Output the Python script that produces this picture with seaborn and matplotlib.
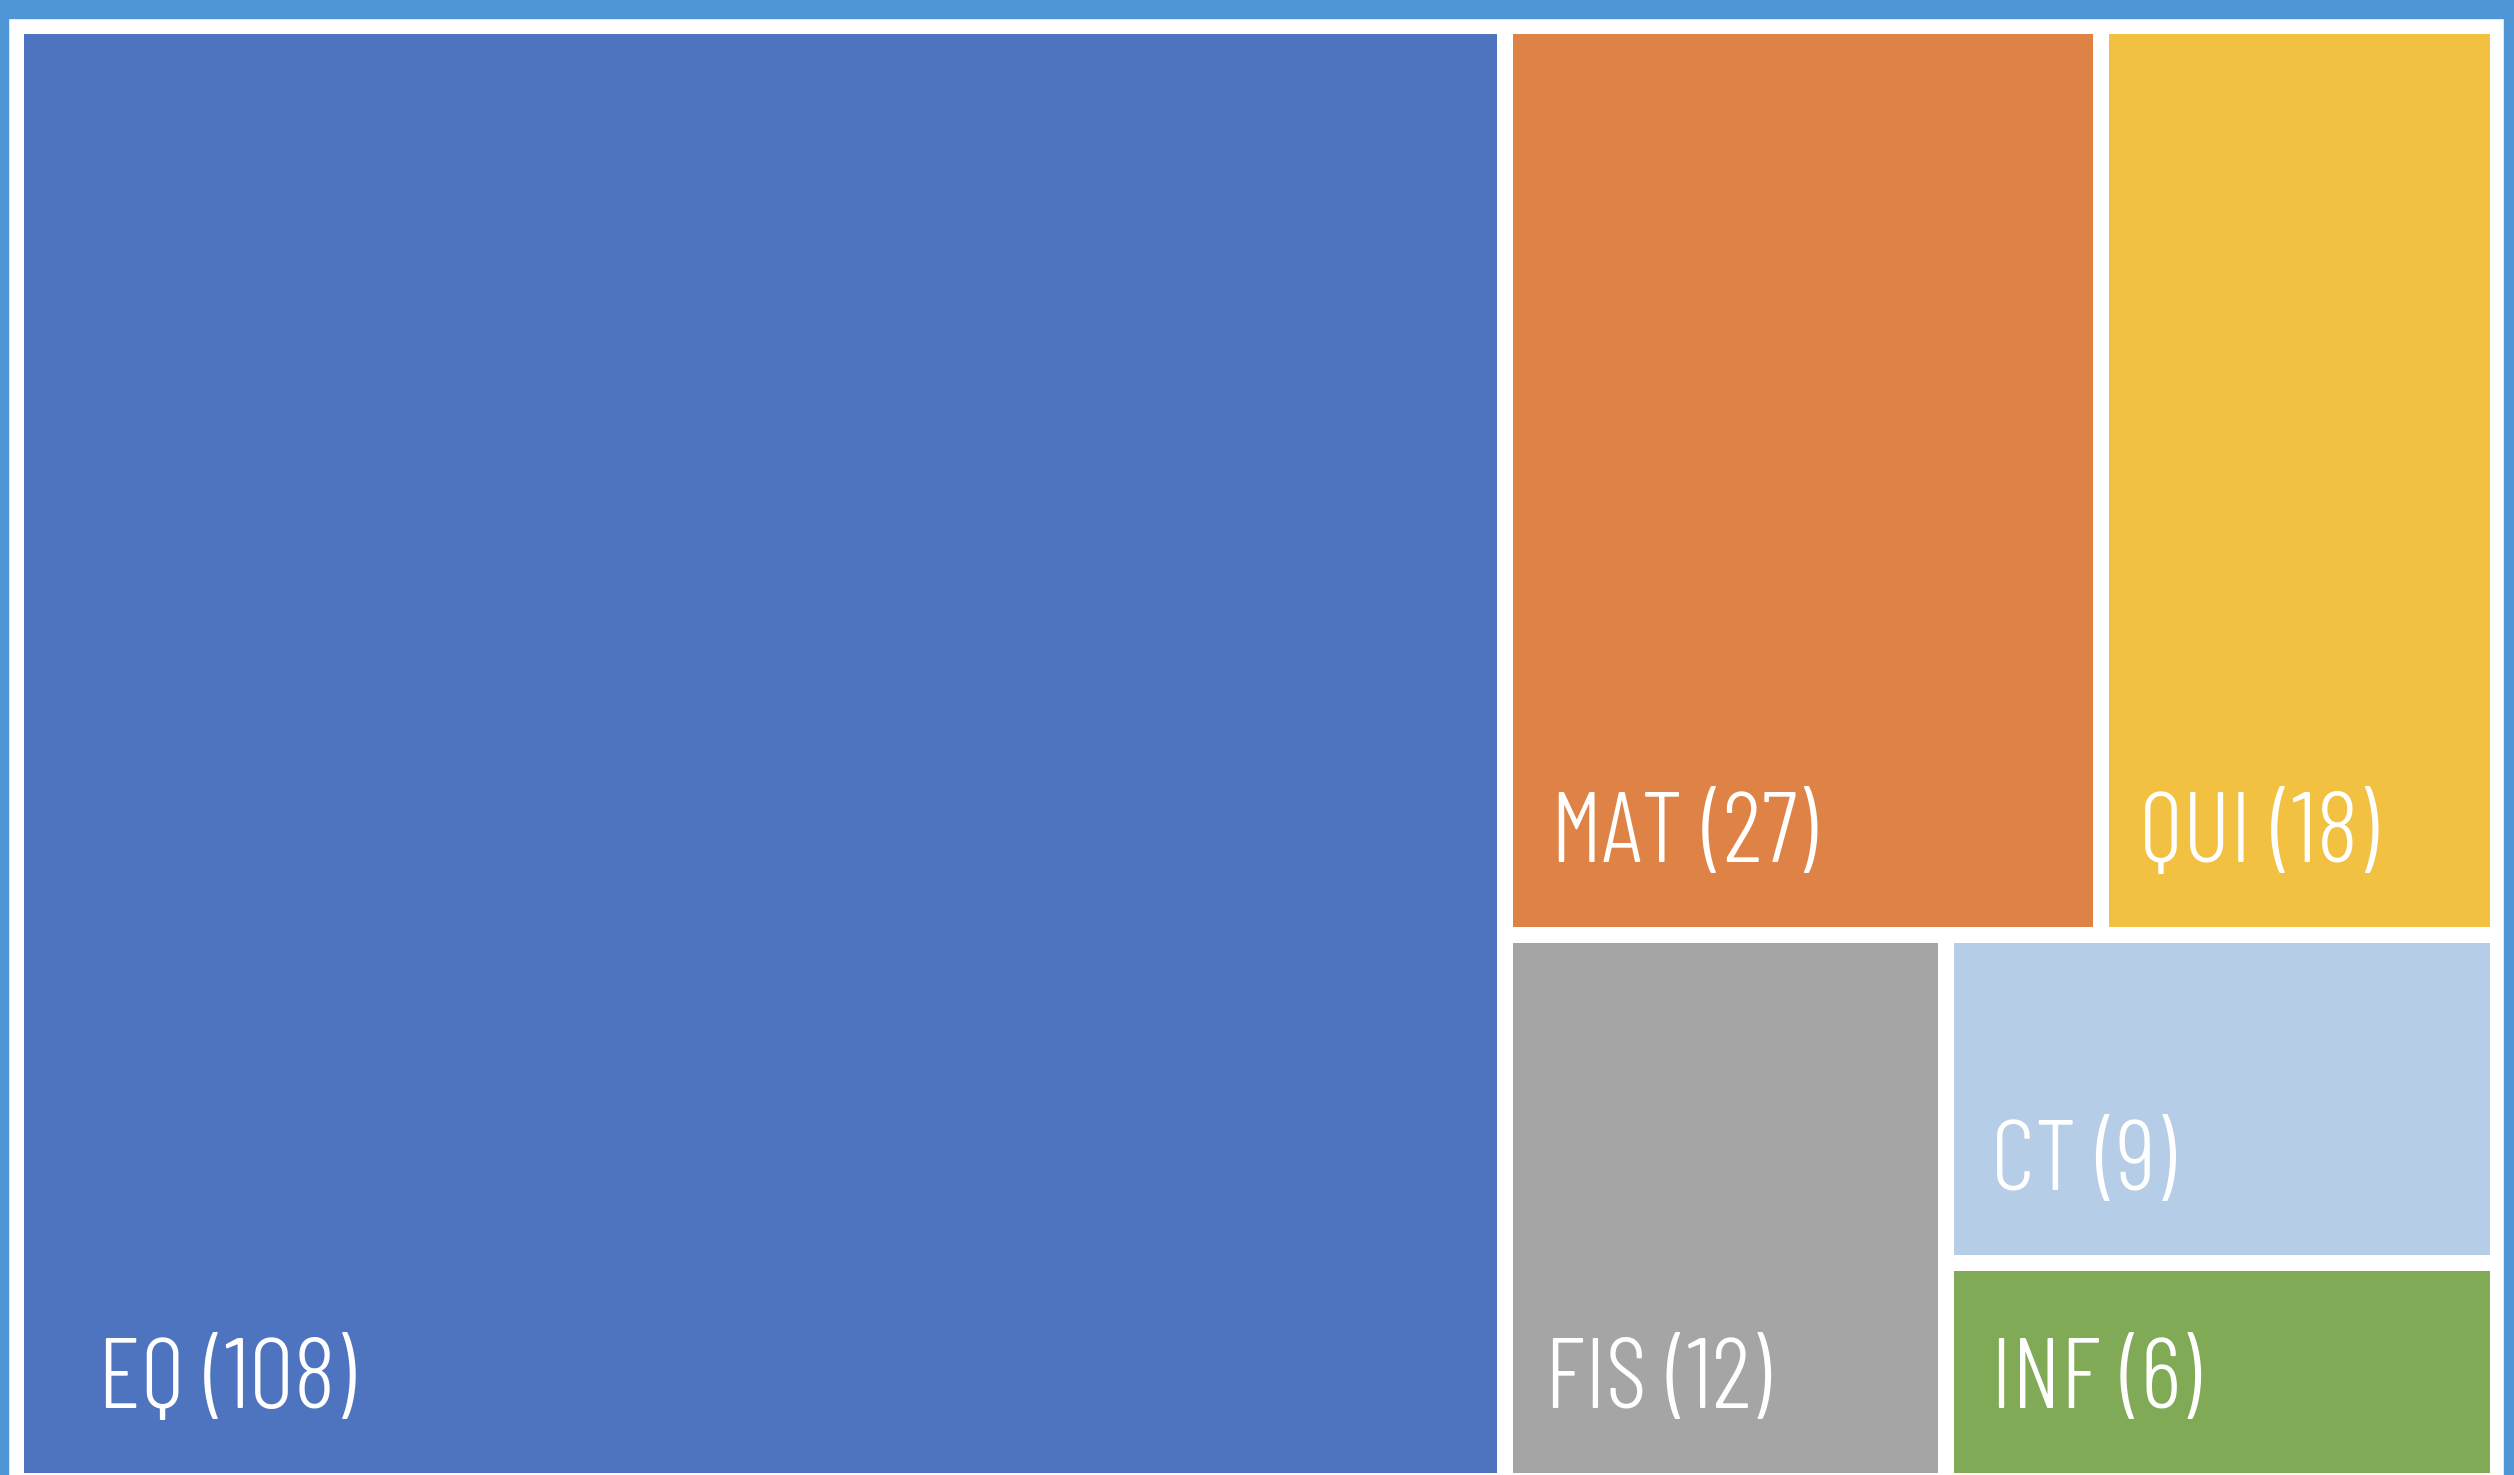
import matplotlib
matplotlib.use("Agg")
import matplotlib.pyplot as plt
from matplotlib.patches import Rectangle
import seaborn as sns

# subject codes and counts
categories = ["EQ", "MAT", "QUI", "FIS", "CT", "INF"]
counts = [108, 27, 18, 12, 9, 6]
tile_colors = ["#4F74BF", "#DF8246", "#F3C142", "#A5A5A5", "#B6CDE8", "#80AA56"]

W, H = 2514, 1475
DPI = 100
GAP = 16


def split_layout(names, vals, x, y, w, h, vertical=True):
    # binary split treemap, alternating cut direction
    if len(vals) == 1:
        return [(names[0], x, y, w, h)]
    total = sum(vals)
    k = min(range(1, len(vals)),
            key=lambda i: (abs(2 * sum(vals[:i]) - total), -sum(vals[:i])))
    frac = sum(vals[:k]) / total
    if vertical:
        a = split_layout(names[:k], vals[:k], x, y, w * frac, h, False)
        b = split_layout(names[k:], vals[k:], x + w * frac, y, w * (1 - frac), h, False)
    else:
        a = split_layout(names[:k], vals[:k], x, y, w, h * frac, True)
        b = split_layout(names[k:], vals[k:], x, y + h * frac, w, h * (1 - frac), True)
    return a + b


sns.set_theme(style="white")
plt.rcParams["font.family"] = ["Barlow Condensed", "DejaVu Sans"]

fig = plt.figure(figsize=(W / DPI, H / DPI), dpi=DPI, facecolor="white")

# axes region in pixels, 1 data unit = 1 pixel
left, right, top, bottom = 16, 2498, 26, 1481
ax = fig.add_axes([left / W, (H - bottom) / H, (right - left) / W, (bottom - top) / H])
aw, ah = right - left, bottom - top
ax.set_xlim(0, aw)
ax.set_ylim(ah, 0)
ax.set_axis_off()

tiles = split_layout(categories, counts, 0, 0, aw, ah)
col = dict(zip(categories, tile_colors))
val = dict(zip(categories, counts))

for name, x, y, w, h in tiles:
    x0, y0 = x + GAP / 2, y + GAP / 2
    tw, th = w - GAP, h - GAP
    ax.bar(x0, th, width=tw, bottom=y0, align="edge", color=col[name], linewidth=0)
    ax.text(x0 + 0.04 * tw + 15, y0 + th - 65, f"{name} ({val[name]})",
            color="white", fontsize=72, fontweight=300, ha="left", va="baseline")

# outer blue frame
frame = "#4F96D6"
fig.patches.append(Rectangle((0, 1 - 18 / H), 1, 18 / H, transform=fig.transFigure,
                             color=frame, zorder=5))
fig.patches.append(Rectangle((0, 0), 8 / W, 1, transform=fig.transFigure,
                             color=frame, zorder=5))
fig.patches.append(Rectangle((1 - 10 / W, 0), 10 / W, 1, transform=fig.transFigure,
                             color=frame, zorder=5))

fig.savefig("out.png", dpi=DPI, facecolor="white")
